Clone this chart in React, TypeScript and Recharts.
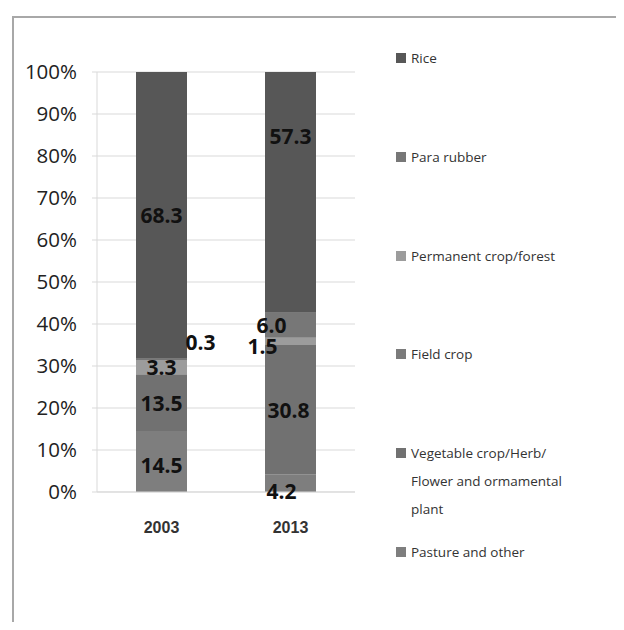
import React from 'react';
import { BarChart, Bar, XAxis, YAxis, CartesianGrid, LabelList } from 'recharts';

// stack order, bottom to top
const years = ['2003', '2013'];
const seriesNames = [
  'Pasture and other',
  'Vegetable crop/Herb/ Flower and ormamental plant',
  'Field crop',
  'Permanent crop/forest',
  'Para rubber',
  'Rice',
];
const pasture = [14.5, 4.2];
const vegetable = [13.5, 30.8];
const fieldCrop = [0.1, 0.2];
const permanent = [3.3, 1.5];
const paraRubber = [0.3, 6.0];
const rice = [68.3, 57.3];
const yTicks = [0, 0.1, 0.2, 0.3, 0.4, 0.5, 0.6, 0.7, 0.8, 0.9, 1];

const values = [pasture, vegetable, fieldCrop, permanent, paraRubber, rice];
const keys = ['pasture', 'vegetable', 'fieldCrop', 'permanent', 'paraRubber', 'rice'];
const COLORS = ['#7e7e7e', '#717171', '#7b7b7b', '#9c9c9c', '#777777', '#575757'];

const data = years.map((year, i) => {
  const row: Record<string, string | number> = { year };
  keys.forEach((k, s) => (row[k] = values[s][i]));
  return row;
});

// hand-moved labels, as in the source (series key + year index)
const labelShift: Record<string, [number, number]> = {
  'pasture-0': [0, 3],
  'paraRubber-0': [39, -17],
  'permanent-1': [-28, 5],
  'paraRubber-1': [-19, 0],
  'pasture-1': [-9, 8],
  'vegetable-1': [-2, 0],
  'rice-1': [0, -56],
};

const makeLabel = (s: number) => (props: any) => {
  const { x, y, width, height, index } = props;
  if (keys[s] === 'fieldCrop') return null;
  const [dx, dy] = labelShift[`${keys[s]}-${index}`] || [0, 0];
  return (
    <text
      x={Number(x) + Number(width) / 2 + dx}
      y={Number(y) + Number(height) / 2 + dy}
      textAnchor="middle"
      dominantBaseline="central"
      fontSize={21}
      fontWeight="bold"
      fill="#111"
    >
      {values[s][index].toFixed(1)}
    </text>
  );
};

const LegendBox = () => (
  <div style={{ position: 'absolute', left: 388, top: 0, width: 220, height: 600 }}>
    {seriesNames
      .map((name, s) => ({ name, s }))
      .reverse()
      .map(({ name, s }, i) => (
        <div
          key={name}
          style={{
            position: 'absolute',
            left: 0,
            top: 36 + i * 98.8,
            display: 'flex',
            alignItems: 'flex-start',
            fontSize: 13.5,
            lineHeight: '28px',
            color: '#333',
          }}
        >
          <span style={{ width: 10, height: 10, background: COLORS[s], marginTop: 9, marginRight: 5, flex: 'none' }} />
          <span style={{ width: 172 }}>{name}</span>
        </div>
      ))}
  </div>
);

export default function App() {
  return (
    <div style={{ position: 'relative', width: 616, height: 614, overflow: 'hidden', fontFamily: '"Open Sans", sans-serif' }}>
      <div
        style={{
          position: 'absolute',
          left: 4,
          top: 8,
          width: 620,
          height: 620,
          borderLeft: '2px solid #a8a8a8',
          borderTop: '2px solid #a8a8a8',
        }}
      />
      <div style={{ position: 'absolute', left: 0, top: 0 }}>
        <BarChart
          width={616}
          height={614}
          data={data}
          stackOffset="expand"
          margin={{ top: 64, right: 269, bottom: 100, left: 0 }}
        >
          <CartesianGrid vertical={false} stroke="#d9d9d9" />
          <XAxis
            dataKey="year"
            axisLine={{ stroke: '#d9d9d9' }}
            tickLine={false}
            tickSize={0}
            tickMargin={30}
            tick={{ fontSize: 16, fontWeight: 'bold', fill: '#333', fontFamily: '"Liberation Sans", Arial, sans-serif' }}
          />
          <YAxis
            width={89}
            domain={[0, 1]}
            ticks={yTicks}
            interval={0}
            tickFormatter={(v: number) => `${Math.round(v * 100)}%`}
            axisLine={{ stroke: '#d9d9d9' }}
            tickLine={{ stroke: '#d9d9d9' }}
            tickSize={5}
            tickMargin={15}
            tick={{ fontSize: 20.5, fill: '#222' }}
          />
          {keys.map((k, s) => (
            <Bar
              key={k}
              dataKey={k}
              name={seriesNames[s]}
              stackId="a"
              fill={COLORS[s]}
              barSize={51}
              isAnimationActive={false}
            >
              <LabelList dataKey={k} content={makeLabel(s)} />
            </Bar>
          ))}
        </BarChart>
      </div>
      <LegendBox />
    </div>
  );
}
